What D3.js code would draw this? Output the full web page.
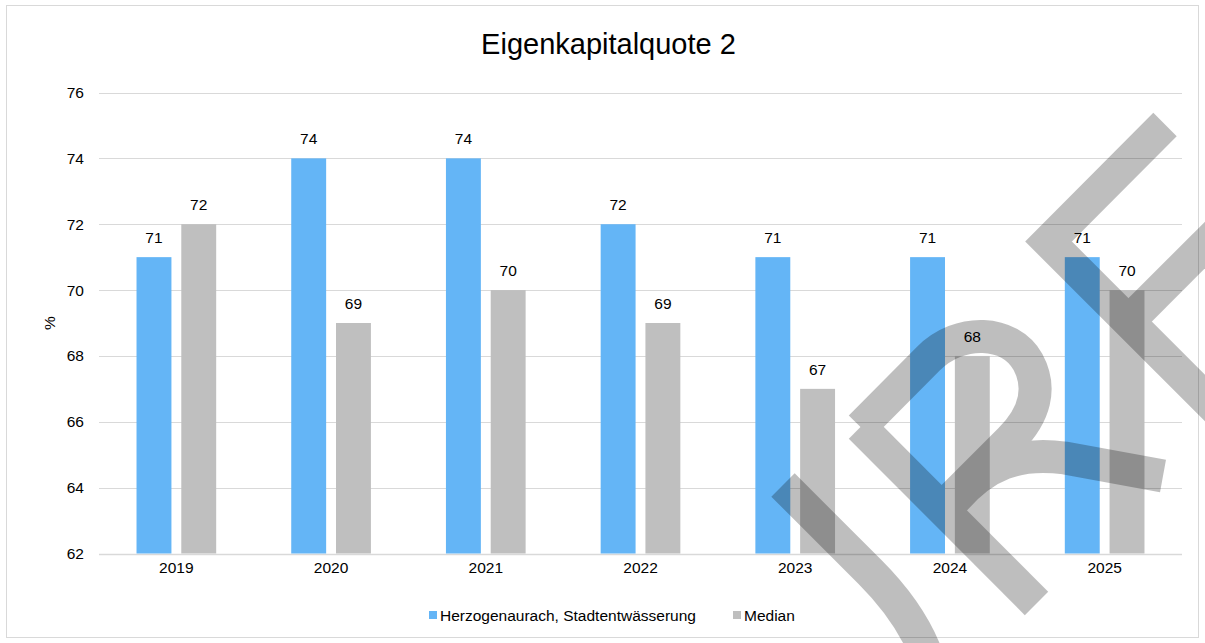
<!DOCTYPE html>
<html>
<head>
<meta charset="utf-8">
<script src="https://cdn.jsdelivr.net/npm/d3@7"></script>
<style>
  html, body { margin: 0; padding: 0; background: #fff; }
  svg { display: block; font-family: "Liberation Sans", Arial, sans-serif; }
</style>
</head>
<body>
<svg id="chart" width="1205" height="643"></svg>
<script>
const title = "Eigenkapitalquote 2";
const categories = ["2019", "2020", "2021", "2022", "2023", "2024", "2025"];
const seriesNames = ["Herzogenaurach, Stadtentwässerung", "Median"];
const herzogenaurach = [71, 74, 74, 72, 71, 71, 71];
const median = [72, 69, 70, 69, 67, 68, 70];
const yTicks = [62, 64, 66, 68, 70, 72, 74, 76];
const yLabel = "%";
const colors = ["#64B5F6", "#BFBFBF"];

const svg = d3.select("#chart");
const W = 1205, H = 643;
const plot = { left: 99, right: 1182, top: 92.5, bottom: 553.5 };

// chart frame
svg.append("rect").attr("x", 6.5).attr("y", 5.5).attr("width", 1192).attr("height", 632)
  .attr("fill", "#fff").attr("stroke", "#d9d9d9").attr("stroke-width", 1);

// title
svg.append("text").attr("x", 608.5).attr("y", 53.5).attr("text-anchor", "middle")
  .attr("font-size", 29).attr("fill", "#000").text(title);

const y = d3.scaleLinear().domain([62, 76]).range([plot.bottom, plot.top]);
const x0 = d3.scaleBand().domain(categories).range([plot.left, plot.right])
  .paddingInner(0.485).paddingOuter(0.2425);
const x1 = d3.scaleBand().domain([0, 1]).range([0, x0.bandwidth()]).paddingInner(0.22);

// gridlines
svg.append("g").selectAll("line").data(yTicks).join("line")
  .attr("x1", plot.left).attr("x2", plot.right)
  .attr("y1", d => Math.round(y(d)) + 0.5).attr("y2", d => Math.round(y(d)) + 0.5)
  .attr("stroke", "#d9d9d9").attr("stroke-width", d => d === 62 ? 1.5 : 1);

// y axis labels
const yAxis = svg.append("g").attr("transform", `translate(${plot.left - 15},0)`)
  .call(d3.axisLeft(y).tickValues(yTicks).tickSize(0).tickPadding(0).tickFormat(d3.format("d")));
yAxis.select(".domain").remove();
yAxis.selectAll("text").attr("font-size", 15.5).attr("fill", "#000")
  .attr("font-family", "Liberation Sans, Arial, sans-serif");

// y label
svg.append("text").attr("transform", `translate(55,323) rotate(-90)`)
  .attr("text-anchor", "middle").attr("font-size", 15.5).attr("fill", "#000").text(yLabel);

// x axis labels
const xAxis = svg.append("g").attr("transform", `translate(0,${plot.bottom + 8})`)
  .call(d3.axisBottom(x0).tickSize(0).tickPadding(0));
xAxis.select(".domain").remove();
xAxis.selectAll("text").attr("font-size", 15.5).attr("fill", "#000")
  .attr("font-family", "Liberation Sans, Arial, sans-serif");

// bars
const data = categories.map((c, i) => ({ c, vals: [herzogenaurach[i], median[i]] }));
const groups = svg.append("g").selectAll("g").data(data).join("g")
  .attr("transform", d => `translate(${x0(d.c)},0)`);
groups.selectAll("rect").data(d => d.vals.map((v, k) => ({ v, k }))).join("rect")
  .attr("x", d => x1(d.k)).attr("width", x1.bandwidth())
  .attr("y", d => y(d.v)).attr("height", d => y(62) - y(d.v))
  .attr("fill", d => colors[d.k]);
groups.selectAll("text").data(d => d.vals.map((v, k) => ({ v, k }))).join("text")
  .attr("x", d => x1(d.k) + x1.bandwidth() / 2).attr("y", d => y(d.v) - 14)
  .attr("text-anchor", "middle").attr("font-size", 15.5).attr("fill", "#000")
  .text(d => d.v);

// legend
const legendItems = [
  { name: seriesNames[0], color: colors[0], x: 429 },
  { name: seriesNames[1], color: colors[1], x: 733 }
];
const lg = svg.append("g").selectAll("g").data(legendItems).join("g")
  .attr("transform", d => `translate(${d.x},611)`);
lg.append("rect").attr("width", 8).attr("height", 8).attr("fill", d => d.color);
lg.append("text").attr("x", 11).attr("y", 9.7).attr("font-size", 15.5).attr("fill", "#000")
  .text(d => d.name);

// watermark overlay
const wm = svg.append("g").attr("opacity", 0.25)
  .attr("fill", "none").attr("stroke", "#000").attr("stroke-width", 33)
  .attr("stroke-linejoin", "miter").attr("stroke-linecap", "butt").attr("stroke-miterlimit", 10);
const wmPaths = [
  "M783,485 L870,572 Q915,617 930,665",
  "M860.5,427 L1036.5,603.5",
  "M860.5,427 L928,359 C960,327 1010,330 1028,362 C1042,388 1035,415 1010,440 L942,508",
  "M950,505 C985,462 1020,452 1065,458 L1163,476",
  "M1165,124.5 L1048.5,241.5 L1265,458",
  "M1128.5,321.5 L1255,195"
];
wm.selectAll("path").data(wmPaths).join("path").attr("d", d => d);
</script>
</body>
</html>
